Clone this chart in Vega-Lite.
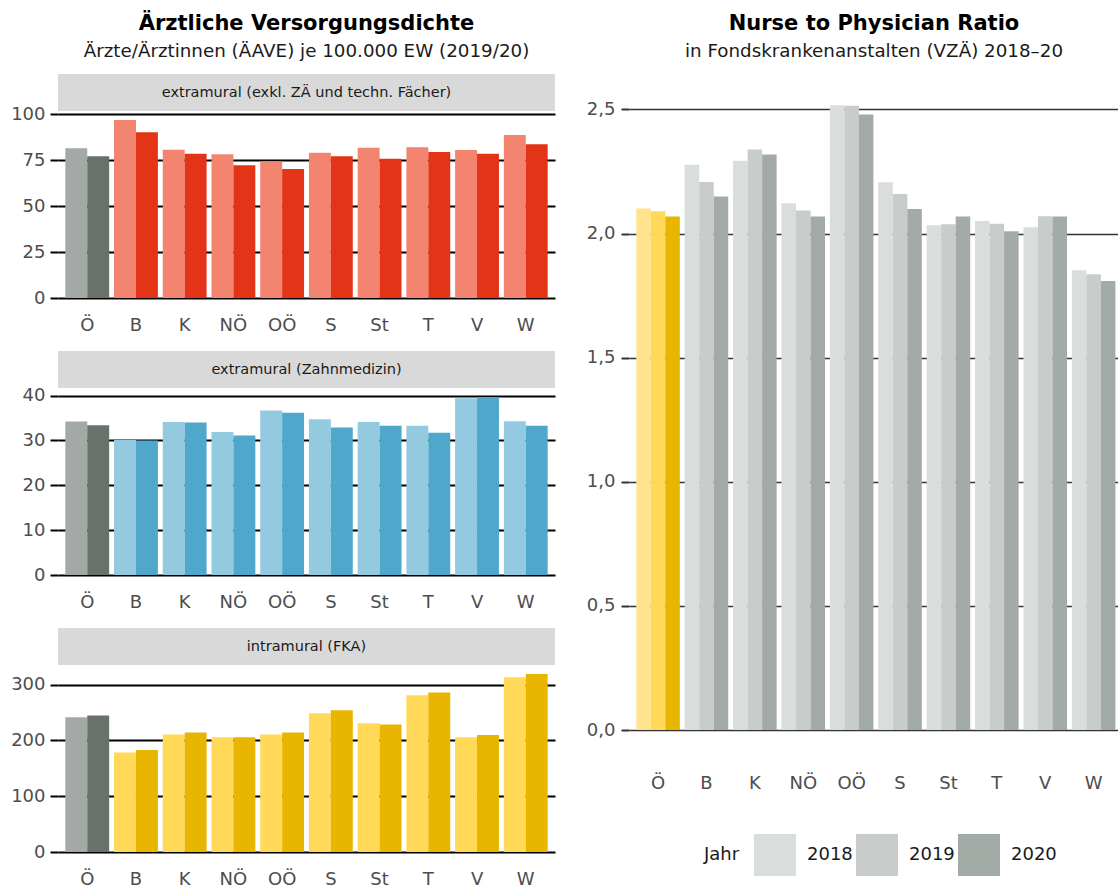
{
  "$schema": "https://vega.github.io/schema/vega-lite/v6.json",
  "padding": {"left": 10, "top": 12, "right": 0, "bottom": 0},
  "background": "white",
  "config": {
    "font": "DejaVu Sans",
    "view": {"stroke": null},
    "axis": {"labelFont": "DejaVu Sans", "labelFontSize": 18, "labelColor": "#4d4d4d", "title": null},
    "title": {"font": "DejaVu Sans", "fontSize": 21, "fontWeight": "bold", "color": "#000000", "anchor": "middle", "subtitleFont": "DejaVu Sans", "subtitleFontSize": 18.3, "subtitleColor": "#1a1a1a", "offset": 14, "subtitlePadding": 9}
  },
  "datasets": {
    "aerzte": [
      {"bereich": "extra", "region": "Ö", "jahr": "2019", "wert": 81.5},
      {"bereich": "extra", "region": "Ö", "jahr": "2020", "wert": 77.1},
      {"bereich": "extra", "region": "B", "jahr": "2019", "wert": 96.9},
      {"bereich": "extra", "region": "B", "jahr": "2020", "wert": 90.2},
      {"bereich": "extra", "region": "K", "jahr": "2019", "wert": 80.7},
      {"bereich": "extra", "region": "K", "jahr": "2020", "wert": 78.5},
      {"bereich": "extra", "region": "NÖ", "jahr": "2019", "wert": 78.2},
      {"bereich": "extra", "region": "NÖ", "jahr": "2020", "wert": 72.2},
      {"bereich": "extra", "region": "OÖ", "jahr": "2019", "wert": 74.4},
      {"bereich": "extra", "region": "OÖ", "jahr": "2020", "wert": 70.2},
      {"bereich": "extra", "region": "S", "jahr": "2019", "wert": 79.1},
      {"bereich": "extra", "region": "S", "jahr": "2020", "wert": 77.1},
      {"bereich": "extra", "region": "St", "jahr": "2019", "wert": 81.8},
      {"bereich": "extra", "region": "St", "jahr": "2020", "wert": 75.8},
      {"bereich": "extra", "region": "T", "jahr": "2019", "wert": 82.0},
      {"bereich": "extra", "region": "T", "jahr": "2020", "wert": 79.4},
      {"bereich": "extra", "region": "V", "jahr": "2019", "wert": 80.5},
      {"bereich": "extra", "region": "V", "jahr": "2020", "wert": 78.5},
      {"bereich": "extra", "region": "W", "jahr": "2019", "wert": 88.7},
      {"bereich": "extra", "region": "W", "jahr": "2020", "wert": 83.6},
      {"bereich": "zahn", "region": "Ö", "jahr": "2019", "wert": 34.2},
      {"bereich": "zahn", "region": "Ö", "jahr": "2020", "wert": 33.4},
      {"bereich": "zahn", "region": "B", "jahr": "2019", "wert": 30.1},
      {"bereich": "zahn", "region": "B", "jahr": "2020", "wert": 30.0},
      {"bereich": "zahn", "region": "K", "jahr": "2019", "wert": 34.1},
      {"bereich": "zahn", "region": "K", "jahr": "2020", "wert": 34.0},
      {"bereich": "zahn", "region": "NÖ", "jahr": "2019", "wert": 31.9},
      {"bereich": "zahn", "region": "NÖ", "jahr": "2020", "wert": 31.1},
      {"bereich": "zahn", "region": "OÖ", "jahr": "2019", "wert": 36.7},
      {"bereich": "zahn", "region": "OÖ", "jahr": "2020", "wert": 36.2},
      {"bereich": "zahn", "region": "S", "jahr": "2019", "wert": 34.7},
      {"bereich": "zahn", "region": "S", "jahr": "2020", "wert": 32.9},
      {"bereich": "zahn", "region": "St", "jahr": "2019", "wert": 34.1},
      {"bereich": "zahn", "region": "St", "jahr": "2020", "wert": 33.3},
      {"bereich": "zahn", "region": "T", "jahr": "2019", "wert": 33.3},
      {"bereich": "zahn", "region": "T", "jahr": "2020", "wert": 31.7},
      {"bereich": "zahn", "region": "V", "jahr": "2019", "wert": 39.4},
      {"bereich": "zahn", "region": "V", "jahr": "2020", "wert": 39.7},
      {"bereich": "zahn", "region": "W", "jahr": "2019", "wert": 34.3},
      {"bereich": "zahn", "region": "W", "jahr": "2020", "wert": 33.3},
      {"bereich": "intra", "region": "Ö", "jahr": "2019", "wert": 241.5},
      {"bereich": "intra", "region": "Ö", "jahr": "2020", "wert": 244.5},
      {"bereich": "intra", "region": "B", "jahr": "2019", "wert": 178.2},
      {"bereich": "intra", "region": "B", "jahr": "2020", "wert": 182.9},
      {"bereich": "intra", "region": "K", "jahr": "2019", "wert": 210.5},
      {"bereich": "intra", "region": "K", "jahr": "2020", "wert": 214.0},
      {"bereich": "intra", "region": "NÖ", "jahr": "2019", "wert": 205.6},
      {"bereich": "intra", "region": "NÖ", "jahr": "2020", "wert": 205.6},
      {"bereich": "intra", "region": "OÖ", "jahr": "2019", "wert": 210.5},
      {"bereich": "intra", "region": "OÖ", "jahr": "2020", "wert": 214.0},
      {"bereich": "intra", "region": "S", "jahr": "2019", "wert": 248.7},
      {"bereich": "intra", "region": "S", "jahr": "2020", "wert": 254.0},
      {"bereich": "intra", "region": "St", "jahr": "2019", "wert": 230.7},
      {"bereich": "intra", "region": "St", "jahr": "2020", "wert": 228.4},
      {"bereich": "intra", "region": "T", "jahr": "2019", "wert": 281.0},
      {"bereich": "intra", "region": "T", "jahr": "2020", "wert": 285.8},
      {"bereich": "intra", "region": "V", "jahr": "2019", "wert": 205.6},
      {"bereich": "intra", "region": "V", "jahr": "2020", "wert": 209.8},
      {"bereich": "intra", "region": "W", "jahr": "2019", "wert": 313.2},
      {"bereich": "intra", "region": "W", "jahr": "2020", "wert": 319.1}
    ],
    "npr": [
      {"region": "Ö", "jahr": "2018", "ratio": 2.101},
      {"region": "Ö", "jahr": "2019", "ratio": 2.090},
      {"region": "Ö", "jahr": "2020", "ratio": 2.069},
      {"region": "B", "jahr": "2018", "ratio": 2.277},
      {"region": "B", "jahr": "2019", "ratio": 2.208},
      {"region": "B", "jahr": "2020", "ratio": 2.149},
      {"region": "K", "jahr": "2018", "ratio": 2.293},
      {"region": "K", "jahr": "2019", "ratio": 2.339},
      {"region": "K", "jahr": "2020", "ratio": 2.319},
      {"region": "NÖ", "jahr": "2018", "ratio": 2.122},
      {"region": "NÖ", "jahr": "2019", "ratio": 2.093},
      {"region": "NÖ", "jahr": "2020", "ratio": 2.069},
      {"region": "OÖ", "jahr": "2018", "ratio": 2.517},
      {"region": "OÖ", "jahr": "2019", "ratio": 2.515},
      {"region": "OÖ", "jahr": "2020", "ratio": 2.480},
      {"region": "S", "jahr": "2018", "ratio": 2.207},
      {"region": "S", "jahr": "2019", "ratio": 2.160},
      {"region": "S", "jahr": "2020", "ratio": 2.099},
      {"region": "St", "jahr": "2018", "ratio": 2.034},
      {"region": "St", "jahr": "2019", "ratio": 2.038},
      {"region": "St", "jahr": "2020", "ratio": 2.069},
      {"region": "T", "jahr": "2018", "ratio": 2.051},
      {"region": "T", "jahr": "2019", "ratio": 2.040},
      {"region": "T", "jahr": "2020", "ratio": 2.009},
      {"region": "V", "jahr": "2018", "ratio": 2.026},
      {"region": "V", "jahr": "2019", "ratio": 2.070},
      {"region": "V", "jahr": "2020", "ratio": 2.069},
      {"region": "W", "jahr": "2018", "ratio": 1.852},
      {"region": "W", "jahr": "2019", "ratio": 1.836},
      {"region": "W", "jahr": "2020", "ratio": 1.809}
    ]
  },
  "resolve": {"scale": {"xOffset": "independent", "color": "independent", "x": "independent", "y": "independent"}},
  "hconcat": [
    {
      "spacing": 17,
      "resolve": {"scale": {"xOffset": "independent", "color": "independent", "y": "independent"}},
      "vconcat": [
        {
          "spacing": 0,
          "bounds": "flush",
          "vconcat": [
            {
              "title": {"text": "Ärztliche Versorgungsdichte", "subtitle": "Ärzte/Ärztinnen (ÄAVE) je 100.000 EW (2019/20)"},
              "data": {"values": [{"label": "extramural (exkl. ZÄ und techn. Fächer)"}]},
              "width": 497, "height": 37,
              "view": {"fill": "#d9d9d9", "stroke": null},
              "mark": {"type": "text", "fontSize": 14.5, "color": "#1a1a1a", "font": "DejaVu Sans"},
              "encoding": {"text": {"field": "label"}}
            },
            {
              "data": {"name": "aerzte"},
              "transform": [{"filter": "datum.bereich === 'extra'"}],
              "width": 497, "height": 187,
              "encoding": {
                "x": {"field": "region", "type": "nominal", "sort": ["Ö", "B", "K", "NÖ", "OÖ", "S", "St", "T", "V", "W"], "scale": {"paddingInner": 0.1, "paddingOuter": 0.15}, "axis": {"labelAngle": 0, "ticks": false, "domain": false, "labelPadding": 18}},
                "xOffset": {"field": "jahr", "type": "nominal", "scale": {"domain": ["2019", "2020"]}},
                "y": {"field": "wert", "type": "quantitative", "scale": {"domain": [0, 101.75], "nice": false}, "axis": {"values": [0, 25, 50, 75, 100], "grid": true, "gridColor": "#000000", "gridWidth": 2, "tickColor": "#000000", "tickWidth": 2, "tickSize": 8, "domain": false, "labelPadding": 5}}
              },
              "layer": [
                {"transform": [{"filter": "datum.region === 'Ö'"}], "mark": {"type": "bar"}, "encoding": {"color": {"field": "jahr", "type": "nominal", "scale": {"domain": ["2019", "2020"], "range": ["#a3aaa5", "#68716a"]}, "legend": null}}},
                {"transform": [{"filter": "datum.region !== 'Ö'"}], "mark": {"type": "bar"}, "encoding": {"color": {"field": "jahr", "type": "nominal", "scale": {"domain": ["2019", "2020"], "range": ["#f28470", "#e33418"]}, "legend": null}}}
              ],
              "resolve": {"scale": {"color": "independent"}}
            }
          ]
        },
        {
          "spacing": 0,
          "bounds": "flush",
          "vconcat": [
            {
              "data": {"values": [{"label": "extramural (Zahnmedizin)"}]},
              "width": 497, "height": 37,
              "view": {"fill": "#d9d9d9", "stroke": null},
              "mark": {"type": "text", "fontSize": 14.5, "color": "#1a1a1a", "font": "DejaVu Sans"},
              "encoding": {"text": {"field": "label"}}
            },
            {
              "data": {"name": "aerzte"},
              "transform": [{"filter": "datum.bereich === 'zahn'"}],
              "width": 497, "height": 187,
              "encoding": {
                "x": {"field": "region", "type": "nominal", "sort": ["Ö", "B", "K", "NÖ", "OÖ", "S", "St", "T", "V", "W"], "scale": {"paddingInner": 0.1, "paddingOuter": 0.15}, "axis": {"labelAngle": 0, "ticks": false, "domain": false, "labelPadding": 18}},
                "xOffset": {"field": "jahr", "type": "nominal", "scale": {"domain": ["2019", "2020"]}},
                "y": {"field": "wert", "type": "quantitative", "scale": {"domain": [0, 41.69], "nice": false}, "axis": {"values": [0, 10, 20, 30, 40], "grid": true, "gridColor": "#000000", "gridWidth": 2, "tickColor": "#000000", "tickWidth": 2, "tickSize": 8, "domain": false, "labelPadding": 5}}
              },
              "layer": [
                {"transform": [{"filter": "datum.region === 'Ö'"}], "mark": {"type": "bar"}, "encoding": {"color": {"field": "jahr", "type": "nominal", "scale": {"domain": ["2019", "2020"], "range": ["#a3aaa5", "#68716a"]}, "legend": null}}},
                {"transform": [{"filter": "datum.region !== 'Ö'"}], "mark": {"type": "bar"}, "encoding": {"color": {"field": "jahr", "type": "nominal", "scale": {"domain": ["2019", "2020"], "range": ["#94cadf", "#4fa8cb"]}, "legend": null}}}
              ],
              "resolve": {"scale": {"color": "independent"}}
            }
          ]
        },
        {
          "spacing": 0,
          "bounds": "flush",
          "vconcat": [
            {
              "data": {"values": [{"label": "intramural (FKA)"}]},
              "width": 497, "height": 37,
              "view": {"fill": "#d9d9d9", "stroke": null},
              "mark": {"type": "text", "fontSize": 14.5, "color": "#1a1a1a", "font": "DejaVu Sans"},
              "encoding": {"text": {"field": "label"}}
            },
            {
              "data": {"name": "aerzte"},
              "transform": [{"filter": "datum.bereich === 'intra'"}],
              "width": 497, "height": 187,
              "encoding": {
                "x": {"field": "region", "type": "nominal", "sort": ["Ö", "B", "K", "NÖ", "OÖ", "S", "St", "T", "V", "W"], "scale": {"paddingInner": 0.1, "paddingOuter": 0.15}, "axis": {"labelAngle": 0, "ticks": false, "domain": false, "labelPadding": 18}},
                "xOffset": {"field": "jahr", "type": "nominal", "scale": {"domain": ["2019", "2020"]}},
                "y": {"field": "wert", "type": "quantitative", "scale": {"domain": [0, 335.1], "nice": false}, "axis": {"values": [0, 100, 200, 300], "grid": true, "gridColor": "#000000", "gridWidth": 2, "tickColor": "#000000", "tickWidth": 2, "tickSize": 8, "domain": false, "labelPadding": 5}}
              },
              "layer": [
                {"transform": [{"filter": "datum.region === 'Ö'"}], "mark": {"type": "bar"}, "encoding": {"color": {"field": "jahr", "type": "nominal", "scale": {"domain": ["2019", "2020"], "range": ["#a3aaa5", "#68716a"]}, "legend": null}}},
                {"transform": [{"filter": "datum.region !== 'Ö'"}], "mark": {"type": "bar"}, "encoding": {"color": {"field": "jahr", "type": "nominal", "scale": {"domain": ["2019", "2020"], "range": ["#ffd957", "#e8b500"]}, "legend": null}}}
              ],
              "resolve": {"scale": {"color": "independent"}}
            }
          ]
        }
      ]
    },
    {
      "title": {"text": "Nurse to Physician Ratio", "subtitle": "in Fondskrankenanstalten (VZÄ) 2018–20"},
      "data": {"name": "npr"},
      "width": 490, "height": 656,
      "encoding": {
        "x": {"field": "region", "type": "nominal", "sort": ["Ö", "B", "K", "NÖ", "OÖ", "S", "St", "T", "V", "W"], "scale": {"paddingInner": 0.1, "paddingOuter": 0.112, "align": 0.67}, "axis": {"labelAngle": 0, "ticks": false, "domain": false, "labelPadding": 44}},
        "xOffset": {"field": "jahr", "type": "nominal", "scale": {"domain": ["2018", "2019", "2020"]}},
        "y": {"field": "ratio", "type": "quantitative", "scale": {"domain": [0, 2.643], "nice": false}, "axis": {"values": [0, 0.5, 1, 1.5, 2, 2.5], "labelExpr": "replace(format(datum.value, '.1f'), '.', ',')", "grid": true, "gridColor": "#333333", "gridWidth": 1.3, "tickColor": "#333333", "tickWidth": 2, "tickSize": 8, "domain": false, "labelPadding": 6}}
      },
      "layer": [
        {"transform": [{"filter": "datum.region === 'Ö'"}], "mark": {"type": "bar"}, "encoding": {"color": {"field": "jahr", "type": "nominal", "scale": {"domain": ["2018", "2019", "2020"], "range": ["#ffe38e", "#ffd957", "#e8b500"]}, "legend": null}}},
        {"transform": [{"filter": "datum.region !== 'Ö'"}], "mark": {"type": "bar"}, "encoding": {"color": {"field": "jahr", "type": "nominal", "scale": {"domain": ["2018", "2019", "2020"], "range": ["#d9dddb", "#c8ccca", "#a3aba6"]}, "legend": {"title": "Jahr", "orient": "none", "legendX": 75, "legendY": 760, "direction": "horizontal", "titleOrient": "left", "symbolType": "square", "symbolSize": 1764, "symbolStrokeWidth": 0, "symbolOpacity": 1, "labelFontSize": 18, "labelFont": "DejaVu Sans", "labelColor": "#1a1a1a", "titleFontSize": 18, "titleFont": "DejaVu Sans", "titleFontWeight": "normal", "titleColor": "#1a1a1a", "titleBaseline": "middle", "labelOffset": 11, "columnPadding": 3, "titlePadding": 14}}}}
      ],
      "resolve": {"scale": {"color": "independent"}}
    }
  ],
  "spacing": 31
}
